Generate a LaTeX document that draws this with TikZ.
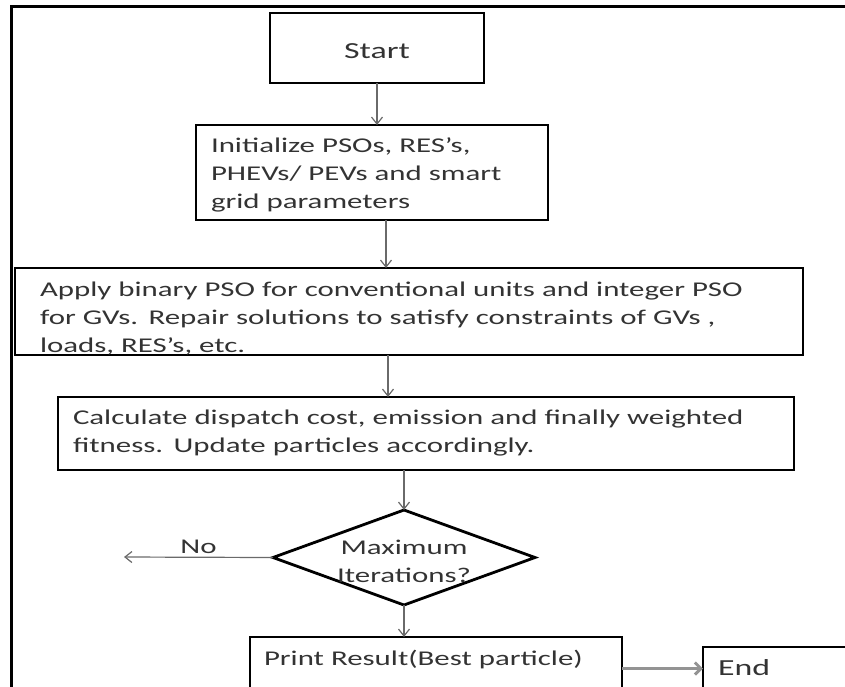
\documentclass[tikz,border=0pt]{standalone}
\usepackage{fontspec}
\setmainfont{Carlito}[FakeStretch=1.47]
\usetikzlibrary{shapes.geometric, positioning, arrows.meta}
\definecolor{txtgray}{HTML}{333333}
\definecolor{arrgray}{HTML}{6A6A6A}
\tikzset{
	x=1pt, y=-1pt,
	>={Straight Barb[length=7pt,width=11pt]},
	every node/.style={text=txtgray, font=\fontsize{21}{28}\selectfont},
	box/.style={draw=black, line width=2.8pt, inner ysep=0pt, outer sep=0pt, align=left},
	decision/.style={diamond, draw=black, line width=2.8pt, outer sep=0pt, aspect=2.76, inner sep=-15pt, align=center, minimum width=262, minimum height=95},
	flow/.style={->, draw=arrgray, line width=1.2pt},
}

\begin{document}
\begin{tikzpicture}
			\path[use as bounding box] (0,0) rectangle (845,686);
			\clip (0,0) rectangle (845,686);
			\draw[line width=3pt] (11,700) -- (11,6) -- (860,6);
			
			\node[box, align=center, minimum width=214, text height=45pt, text depth=25pt, font=\fontsize{23}{28}\selectfont] (START) at (377,48) {Start};
			\node[box, below=42pt of START, xshift=-5pt, text width=322, inner xsep=15pt, text height=27pt, text depth=68pt] (INIT) {Initialize PSOs, RES’s,\\PHEVs/ PEVs and smart\\grid parameters};
			\node[box, below=48pt of INIT, xshift=37pt, text width=738, inner xsep=25pt, text height=28pt, text depth=59pt] (APPLY) {Apply binary PSO for conventional units and integer PSO\\for GVs. Repair solutions to satisfy constraints of GVs ,\\loads, RES’s, etc.};
			\node[box, below=42pt of APPLY, xshift=17pt, text width=706, inner xsep=15pt, text height=27pt, text depth=46pt] (CALC) {Calculate dispatch cost, emission and finally weighted\\fitness. Update particles accordingly.};
			\node[decision, below=40pt of CALC, xshift=-22pt, text height=57pt, text depth=7pt] (MAXIT) {Maximum\\Iterations?};
			\node[box, below=32pt of MAXIT, xshift=32pt, text width=344, inner xsep=14pt, text height=28pt, text depth=29pt] (PRINT) {Print Result(Best particle)};
			\node[box, right=81pt of PRINT, yshift=-8pt, text width=170, inner xsep=15pt, text height=28pt, text depth=25pt, font=\fontsize{23}{28}\selectfont] (END) {End};
			\coordinate (NOEND) at (124,557);
			
			\draw[flow] (START.south) -- (START.south |- INIT.north);
			\draw[flow] ([xshift=14pt]INIT.south) -- ([xshift=14pt]INIT.south |- APPLY.north);
			\draw[flow] ([xshift=-21pt]APPLY.south) -- ([xshift=-21pt]APPLY.south |- CALC.north);
			\draw[flow] (MAXIT.north |- CALC.south) -- (MAXIT.north);
			\draw[flow] (MAXIT.south) -- (MAXIT.south |- PRINT.north);
			\draw[flow] (MAXIT.west) -- node[above, inner sep=3pt]{No} (NOEND);
			\draw[->, draw=gray!85, line width=3pt, >={Straight Barb[length=6pt,width=12pt]}] ([yshift=-3pt]PRINT.east) -- ([yshift=-3pt]PRINT.east -| END.west);
		\end{tikzpicture}
\end{document}
